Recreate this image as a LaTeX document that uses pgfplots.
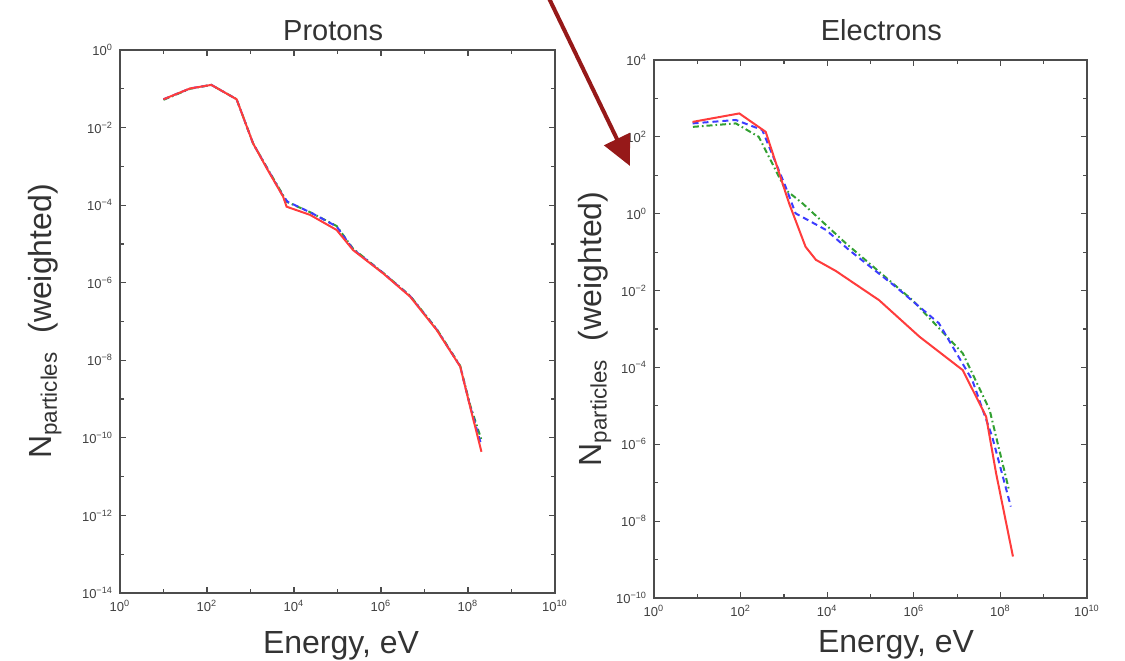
\documentclass[border=0pt]{standalone}
\usepackage{fontspec}
\setmainfont{Liberation Sans}
\usepackage{pgfplots}
\pgfplotsset{compat=1.18}
\usetikzlibrary{arrows.meta}
\definecolor{cred}{RGB}{255,60,60}
\definecolor{cblue}{RGB}{60,60,255}
\definecolor{cgreen}{RGB}{50,160,50}
\definecolor{carrow}{RGB}{150,25,25}
\pgfplotsset{
  myax/.style={
    scale only axis,
    xmin=1, xmax=1e10,
    xtick={1,1e2,1e4,1e6,1e8,1e10},
    minor xtick={1e1,1e3,1e5,1e7,1e9},
    xticklabels={10\textsuperscript{0},10\textsuperscript{2},10\textsuperscript{4},10\textsuperscript{6},10\textsuperscript{8},10\textsuperscript{10}},
    tick label style={font=\fontsize{6.5}{8}\selectfont, text=black!75},
    major tick length=3pt, minor tick length=2pt,
    every tick/.style={black!70, line width=0.6pt},
    axis line style={black!70, line width=1pt},
    xlabel={Energy, eV},
    ylabel={N\textsubscript{particles}\ \ (weighted)},
    label style={font=\fontsize{16}{18}\selectfont, text=black!80},
    title style={font=\fontsize{14.5}{16}\selectfont, text=black!80, anchor=base},
  },
  sred/.style={cred, solid, line width=1pt},
  sblue/.style={cblue, line width=1pt, dash pattern=on 3pt off 2pt},
  sgreen/.style={cgreen, line width=1pt, dash pattern=on 3pt off 1.5pt on 0.8pt off 1.5pt},
}
\begin{document}
\begin{tikzpicture}
\path[use as bounding box] (0,0) rectangle (562.5pt,330pt);
% Protons
\begin{loglogaxis}[myax, at={(60pt,33.5pt)}, anchor=south west,
  width=217.5pt, height=271.5pt,
  ymin=1e-14, ymax=1,
  ytick={1,1e-2,1e-4,1e-6,1e-8,1e-10,1e-12,1e-14},
  minor ytick={1e-1,1e-3,1e-5,1e-7,1e-9,1e-11,1e-13},
  yticklabels={10\textsuperscript{0},10\textsuperscript{−2},10\textsuperscript{−4},10\textsuperscript{−6},10\textsuperscript{−8},10\textsuperscript{−10},10\textsuperscript{−12},10\textsuperscript{−14}},
  title={Protons}, title style={at={(axis description cs:0.49,1)}, yshift=-1pt},
  xlabel style={at={(axis description cs:0.508,-0.1105)}, anchor=base},
  ylabel style={at={(axis description cs:-0.1724,0.5)}, anchor=center, rotate=0},
]
\addplot[sgreen] coordinates {(10,5.2e-2) (40.7,1.0e-1) (126,1.26e-1) (479,5.4e-2) (1148,3.9e-3) (2500,8.5e-4) (5623,1.8e-4) (7000,1.2e-4) (2.34e4,6.6e-5) (9.55e4,2.9e-5) (2.29e5,7.5e-6) (1.12e6,1.8e-6) (4.68e6,4.6e-7) (1.91e7,6.4e-8) (6.61e7,7.2e-9) (1.12e8,7.0e-10) (2.1e8,8.0e-11)};
\addplot[sblue] coordinates {(10,5.37e-2) (40.7,1.02e-1) (126,1.26e-1) (479,5.37e-2) (1148,3.89e-3) (2500,8.3e-4) (5623,1.7e-4) (7079,1.23e-4) (2.51e4,6.31e-5) (9.55e4,2.82e-5) (2.29e5,7.2e-6) (1.12e6,1.78e-6) (4.68e6,4.5e-7) (1.91e7,6.2e-8) (6.61e7,7.0e-9) (1.12e8,6.5e-10) (2.04e8,6.3e-11)};
\addplot[sred] coordinates {(10,5.37e-2) (40.7,1.02e-1) (126,1.26e-1) (479,5.37e-2) (1148,3.89e-3) (2500,8.0e-4) (5623,1.66e-4) (6761,9.12e-5) (2.34e4,5.62e-5) (9.55e4,2.29e-5) (2.29e5,6.92e-6) (1.12e6,1.74e-6) (4.68e6,4.37e-7) (1.91e7,6.03e-8) (6.61e7,6.92e-9) (1.12e8,6.31e-10) (2.04e8,4.37e-11)};
\end{loglogaxis}
% Electrons
\begin{loglogaxis}[myax, at={(327pt,31pt)}, anchor=south west,
  width=216.5pt, height=269pt,
  ymin=1e-10, ymax=1e4,
  ytick={1e4,1e2,1,1e-2,1e-4,1e-6,1e-8,1e-10},
  minor ytick={1e3,1e1,1e-1,1e-3,1e-5,1e-7,1e-9},
  yticklabels={10\textsuperscript{4},10\textsuperscript{2},10\textsuperscript{0},10\textsuperscript{−2},10\textsuperscript{−4},10\textsuperscript{−6},10\textsuperscript{−8},10\textsuperscript{−10}},
  title={Electrons}, title style={at={(axis description cs:0.525,1)}, yshift=4pt},
  xlabel style={at={(axis description cs:0.559,-0.102)}, anchor=base},
  ylabel style={at={(axis description cs:-0.1366,0.5)}, anchor=center, rotate=0},
]
\addplot[sgreen] coordinates {(7.94,182) (77.6,224) (263,100) (1096,4.17) (2692,1.86) (2.69e4,0.170) (9.33e5,5.62e-3) (1.35e7,2.34e-4) (5.62e7,7.94e-6) (1.58e8,6.46e-8)};
\addplot[sblue] coordinates {(7.76,224) (77.6,275) (316,151) (1096,5.01) (1862,1.02) (9333,0.380) (3.16e4,0.115) (3.8e5,1.26e-2) (3.8e6,1.41e-3) (2.24e7,4.68e-5) (6.46e7,1.58e-6) (1.74e8,2.4e-8)};
\addplot[sred] coordinates {(7.76,245) (93.3,407) (380,135) (1318,1.86) (3162,0.138) (5495,6.3e-2) (1.58e4,3.24e-2) (1.58e5,5.62e-3) (1.35e6,6.31e-4) (1.35e7,8.51e-5) (4.68e7,5.25e-6) (7.94e7,1.78e-7) (1.95e8,1.20e-9)};
\end{loglogaxis}
\draw[carrow, line width=2pt, -{Triangle[length=15pt,width=14pt]}] (272pt,336pt) -- (315pt,247pt);
\end{tikzpicture}
\end{document}
